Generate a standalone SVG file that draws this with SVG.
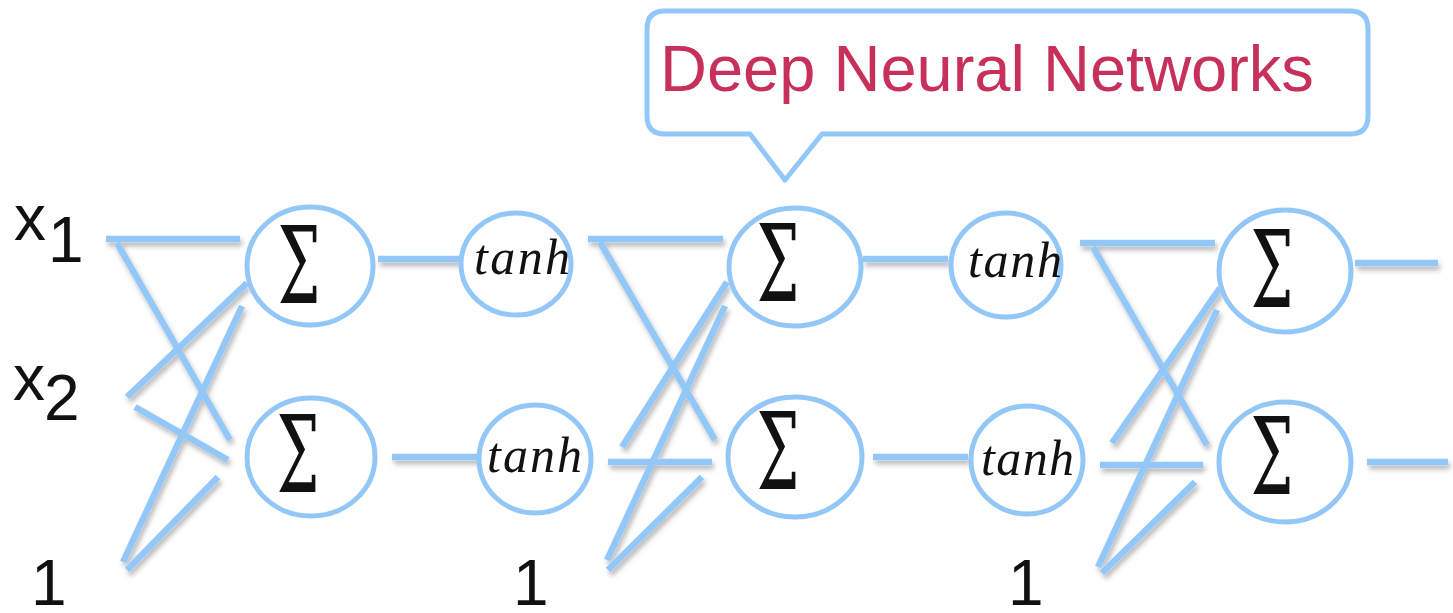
<svg xmlns="http://www.w3.org/2000/svg" width="1453" height="613" viewBox="0 0 1453 613">
  <defs>
    <filter id="lineShadow" x="-20%" y="-20%" width="140%" height="160%">
      <feDropShadow dx="2" dy="4" stdDeviation="2.5" flood-color="#000" flood-opacity="0.28"/>
    </filter>
    <style>
      .wire { stroke: #93c7f7; stroke-width: 6.5; fill: none; stroke-linecap: butt; }
      .unit { stroke: #93c7f7; stroke-width: 5; fill: #ffffff; }
      .sum { font-family: "DejaVu Serif", "Liberation Serif", serif; font-size: 106px; fill: #111; text-anchor: middle; }
      .act { font-family: "Liberation Serif", "Times New Roman", serif; font-style: italic; font-size: 50px; fill: #111; }
      .lbl { font-family: "Liberation Sans", Arial, sans-serif; font-size: 64px; fill: #111; }
      .callout { stroke: #93c7f7; stroke-width: 5; fill: #ffffff; stroke-linejoin: round; }
      .title { font-family: "Liberation Sans", Arial, sans-serif; font-size: 65px; fill: #c7305a; }
    </style>
  </defs>

  <rect width="1453" height="613" fill="#ffffff"/>

  <!-- input labels -->
  <g id="input-x1"><text class="lbl" x="14" y="240">x</text><text class="lbl" x="48" y="262">1</text></g>
  <g id="input-x2"><text class="lbl" x="13" y="400">x</text><text class="lbl" x="44" y="420">2</text></g>
  <g id="bias-1"><text class="lbl" x="31" y="605">1</text></g>
  <g id="bias-2"><text class="lbl" x="513" y="605">1</text></g>
  <g id="bias-3"><text class="lbl" x="1008" y="605">1</text></g>

  <!-- weighted connections and unit-to-unit links -->
  <g id="connectors" filter="url(#lineShadow)">
    <!-- layer 1 weights -->
    <line class="wire" x1="106" y1="239" x2="240" y2="239"/>
    <line class="wire" x1="117" y1="243" x2="230" y2="440"/>
    <line class="wire" x1="127" y1="397" x2="247" y2="283"/>
    <line class="wire" x1="135" y1="407" x2="228" y2="460"/>
    <line class="wire" x1="123" y1="562" x2="242" y2="306"/>
    <line class="wire" x1="127" y1="570" x2="218" y2="477"/>
    <!-- layer 2 weights -->
    <line class="wire" x1="588" y1="239" x2="723" y2="239"/>
    <line class="wire" x1="600" y1="242" x2="715" y2="440"/>
    <line class="wire" x1="622" y1="447" x2="727" y2="282"/>
    <line class="wire" x1="608" y1="462" x2="712" y2="462"/>
    <line class="wire" x1="607" y1="560" x2="725" y2="306"/>
    <line class="wire" x1="608" y1="570" x2="702" y2="477"/>
    <!-- layer 3 weights -->
    <line class="wire" x1="1080" y1="243" x2="1215" y2="243"/>
    <line class="wire" x1="1093" y1="247" x2="1207" y2="445"/>
    <line class="wire" x1="1112" y1="443" x2="1220" y2="288"/>
    <line class="wire" x1="1100" y1="465" x2="1203" y2="465"/>
    <line class="wire" x1="1098" y1="567" x2="1217" y2="310"/>
    <line class="wire" x1="1102" y1="573" x2="1195" y2="482"/>
    <!-- sum to activation -->
    <line class="wire" x1="378" y1="259" x2="460" y2="259"/>
    <line class="wire" x1="392" y1="457" x2="478" y2="457"/>
    <line class="wire" x1="863" y1="259" x2="948" y2="259"/>
    <line class="wire" x1="873" y1="457" x2="968" y2="457"/>
    <!-- outputs -->
    <line class="wire" x1="1355" y1="263" x2="1438" y2="263"/>
    <line class="wire" x1="1367" y1="462" x2="1448" y2="462"/>
  </g>

  <!-- layer 1 -->
  <g id="sum-1a"><ellipse class="unit" cx="310" cy="266" rx="63" ry="59"/><text class="sum" transform="translate(299 303) scale(0.57 1)">Σ</text></g>
  <g id="sum-1b"><ellipse class="unit" cx="311" cy="457" rx="64" ry="59"/><text class="sum" transform="translate(298 492) scale(0.57 1)">Σ</text></g>
  <g id="tanh-1a"><ellipse class="unit" cx="516" cy="264" rx="55" ry="51"/><text class="act" x="474" y="274" textLength="96" lengthAdjust="spacing">tanh</text></g>
  <g id="tanh-1b"><ellipse class="unit" cx="535" cy="459" rx="56" ry="54"/><text class="act" x="487" y="472" textLength="95" lengthAdjust="spacing">tanh</text></g>

  <!-- layer 2 -->
  <g id="sum-2a"><ellipse class="unit" cx="795" cy="267" rx="66" ry="59"/><text class="sum" transform="translate(778 301) scale(0.57 1)">Σ</text></g>
  <g id="sum-2b"><ellipse class="unit" cx="795" cy="457" rx="67" ry="60"/><text class="sum" transform="translate(778 489) scale(0.57 1)">Σ</text></g>
  <g id="tanh-2a"><ellipse class="unit" cx="1006" cy="265" rx="55" ry="52"/><text class="act" x="968" y="277" textLength="94" lengthAdjust="spacing">tanh</text></g>
  <g id="tanh-2b"><ellipse class="unit" cx="1027" cy="460" rx="56" ry="54"/><text class="act" x="981" y="475" textLength="93" lengthAdjust="spacing">tanh</text></g>

  <!-- layer 3 -->
  <g id="sum-3a"><ellipse class="unit" cx="1285" cy="271" rx="66" ry="61"/><text class="sum" transform="translate(1272 307) scale(0.57 1)">Σ</text></g>
  <g id="sum-3b"><ellipse class="unit" cx="1285" cy="462" rx="66" ry="60"/><text class="sum" transform="translate(1272 494) scale(0.57 1)">Σ</text></g>

  <!-- speech bubble title -->
  <g id="title-callout">
    <path class="callout" d="M665 11 H1350 Q1368 11 1368 29 V116 Q1368 134 1350 134 H822 L785 180 L750 134 H665 Q647 134 647 116 V29 Q647 11 665 11 Z"/>
    <text class="title" x="660" y="91">Deep Neural Networks</text>
  </g>
</svg>
